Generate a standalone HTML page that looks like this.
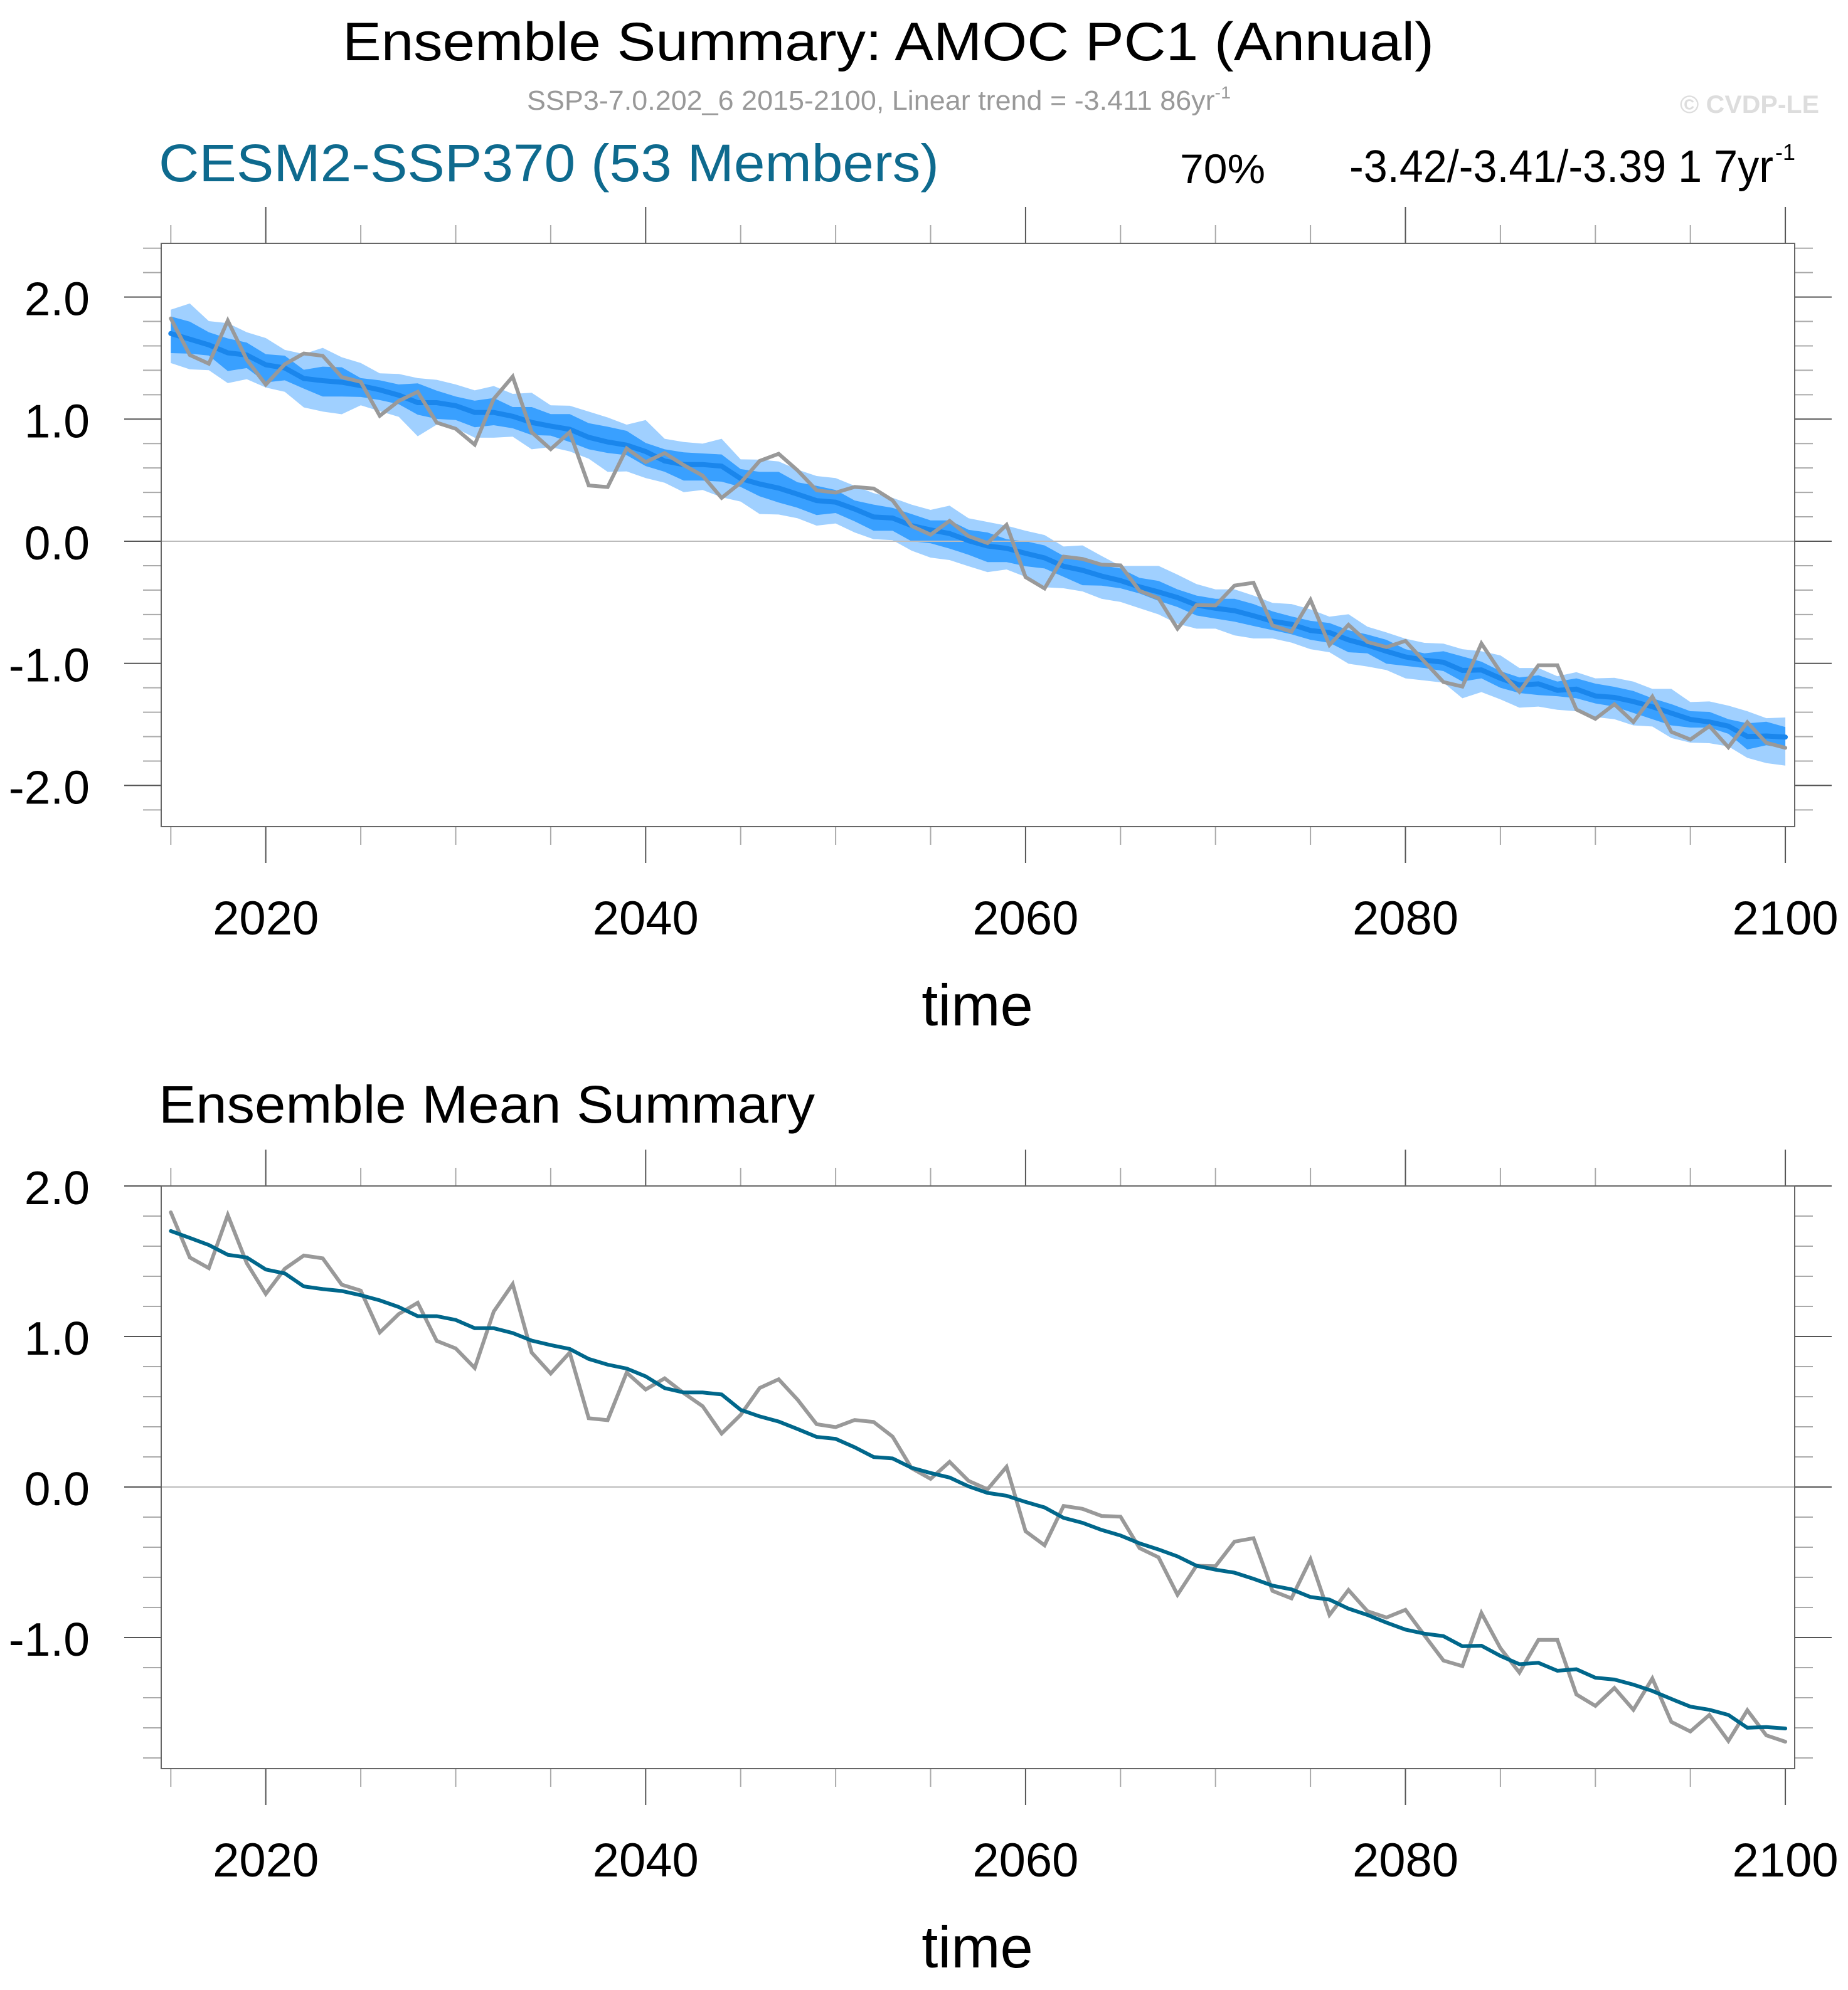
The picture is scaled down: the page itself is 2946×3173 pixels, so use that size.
<!DOCTYPE html>
<html><head><meta charset="utf-8"><title>Ensemble Summary: AMOC PC1 (Annual)</title>
<style>
html,body{margin:0;padding:0;background:#fff;}
svg{display:block;}
text{font-family:"Liberation Sans",Arial,sans-serif;}
</style></head>
<body>
<svg id="chart" xmlns="http://www.w3.org/2000/svg" width="2946" height="3173" viewBox="0 0 2946 3173">
<rect x="0" y="0" width="2946" height="3173" fill="#fff"/>
<text x="1416" y="96" text-anchor="middle" font-size="86" textLength="1740" lengthAdjust="spacingAndGlyphs" fill="#000">Ensemble Summary: AMOC PC1 (Annual)</text>
<text x="840" y="175" font-size="44" textLength="1122" lengthAdjust="spacingAndGlyphs" fill="#999">SSP3-7.0.202_6 2015-2100, Linear trend = -3.411 86yr<tspan dy="-18" font-size="28">-1</tspan></text>
<text x="2678" y="180" font-size="40" font-weight="bold" textLength="222" lengthAdjust="spacingAndGlyphs" fill="#ddd">© CVDP-LE</text>
<text x="253" y="289" font-size="84" textLength="1244" lengthAdjust="spacingAndGlyphs" fill="#0e6a8e">CESM2-SSP370 (53 Members)</text>
<text x="1881" y="292" font-size="66" textLength="136" lengthAdjust="spacingAndGlyphs" fill="#000">70%</text>
<text x="2151" y="290" font-size="72" textLength="676" lengthAdjust="spacingAndGlyphs" fill="#000">-3.42/-3.41/-3.39 1 7yr</text>
<text x="2830" y="255" font-size="36" fill="#000">-1</text>
<text x="253" y="1790" font-size="84" textLength="1046" lengthAdjust="spacingAndGlyphs" fill="#000">Ensemble Mean Summary</text>
<g id="top"></g>
<g id="bot"></g>
</svg>
<script>
const years = [];
for (let y = 2015; y <= 2100; y++) years.push(y);
const obsSeries = [1.825,1.525,1.454,1.807,1.487,1.283,1.450,1.538,1.519,1.344,1.305,1.027,1.149,1.224,0.971,0.921,0.791,1.166,1.348,0.893,0.754,0.893,0.457,0.444,0.760,0.648,0.722,0.624,0.537,0.355,0.479,
0.658,0.716,0.580,0.417,0.398,0.445,0.432,0.335,0.125,0.054,0.167,0.041,-0.015,0.134,-0.294,-0.387,-0.126,-0.145,-0.192,-0.197,-0.406,-0.467,-0.716,-0.523,-0.526,-0.363,-0.340,-0.690,-0.740,-0.480,
-0.850,-0.684,-0.825,-0.867,-0.816,-0.986,-1.153,-1.190,-0.837,-1.071,-1.233,-1.016,-1.016,-1.378,-1.454,-1.335,-1.480,-1.272,-1.561,-1.624,-1.514,-1.687,-1.483,-1.650,-1.692];
const meanSeries = [1.701,1.655,1.608,1.543,1.525,1.445,1.419,1.333,1.315,1.302,1.274,1.240,1.196,1.135,1.135,1.110,1.055,1.055,1.023,0.973,0.943,0.917,0.851,0.813,0.787,0.735,0.657,0.628,0.628,0.615,0.513,
0.469,0.435,0.385,0.333,0.320,0.264,0.199,0.190,0.128,0.093,0.063,0.004,-0.039,-0.058,-0.099,-0.136,-0.205,-0.238,-0.285,-0.322,-0.374,-0.415,-0.461,-0.523,-0.549,-0.569,-0.610,
-0.655,-0.680,-0.731,-0.748,-0.808,-0.850,-0.901,-0.947,-0.974,-0.991,-1.058,-1.054,-1.122,-1.177,-1.168,-1.221,-1.211,-1.267,-1.279,-1.313,-1.355,-1.408,-1.459,-1.480,-1.514,-1.599,-1.595,-1.604];
const outerUpper = [1.896,1.947,1.803,1.786,1.712,1.664,1.567,1.533,1.584,1.507,1.460,1.375,1.370,1.336,1.322,1.284,1.236,1.271,1.207,1.216,1.113,1.110,1.062,1.014,0.955,0.993,0.839,0.813,0.799,0.839,
0.671,0.668,0.654,0.586,0.534,0.517,0.454,0.394,0.356,0.300,0.257,0.291,0.188,0.158,0.128,0.086,0.051,-0.043,-0.034,-0.120,-0.202,-0.202,-0.202,-0.274,-0.351,-0.394,-0.394,-0.445,-0.505,-0.514,
-0.558,-0.618,-0.598,-0.700,-0.747,-0.798,-0.832,-0.838,-0.884,-0.901,-0.935,-1.038,-1.038,-1.106,-1.072,-1.123,-1.118,-1.149,-1.209,-1.209,-1.317,-1.312,-1.346,-1.392,-1.449,-1.443];
const innerUpper = [1.841,1.798,1.712,1.661,1.627,1.532,1.520,1.404,1.430,1.425,1.336,1.318,1.284,1.293,1.233,1.185,1.151,1.173,1.099,1.099,1.041,1.041,0.967,0.938,0.904,0.805,0.753,0.728,0.719,0.711,
0.591,0.568,0.568,0.483,0.454,0.420,0.334,0.300,0.274,0.223,0.171,0.171,0.094,0.072,0.017,0.000,-0.034,-0.120,-0.146,-0.197,-0.223,-0.300,-0.325,-0.394,-0.445,-0.471,-0.471,-0.514,-0.574,-0.616,
-0.652,-0.670,-0.729,-0.764,-0.807,-0.884,-0.918,-0.901,-0.943,-0.986,-1.063,-1.115,-1.098,-1.149,-1.123,-1.166,-1.192,-1.226,-1.286,-1.334,-1.392,-1.397,-1.457,-1.491,-1.478,-1.522];
const innerLower = [1.541,1.536,1.521,1.394,1.418,1.301,1.318,1.250,1.185,1.185,1.182,1.156,1.122,1.036,1.002,0.993,0.933,0.950,0.925,0.870,0.865,0.813,0.753,0.723,0.705,0.616,0.569,0.497,0.497,0.488,
0.445,0.368,0.317,0.274,0.214,0.231,0.163,0.086,0.086,0.000,-0.017,-0.060,-0.111,-0.171,-0.171,-0.205,-0.223,-0.291,-0.360,-0.363,-0.385,-0.428,-0.488,-0.539,-0.608,-0.634,-0.659,-0.694,-0.728,-0.762,
-0.807,-0.832,-0.909,-0.918,-1.003,-1.021,-1.038,-1.063,-1.149,-1.123,-1.200,-1.243,-1.260,-1.269,-1.286,-1.328,-1.354,-1.406,-1.457,-1.508,-1.526,-1.526,-1.577,-1.705,-1.671,-1.697];
const outerLower = [1.459,1.408,1.401,1.295,1.327,1.259,1.224,1.096,1.062,1.040,1.113,1.065,1.019,0.860,0.955,0.925,0.848,0.848,0.856,0.753,0.771,0.736,0.676,0.568,0.572,0.517,0.479,0.402,0.420,0.360,
0.325,0.223,0.219,0.188,0.128,0.146,0.072,0.017,0.009,-0.077,-0.134,-0.154,-0.205,-0.253,-0.231,-0.291,-0.377,-0.385,-0.411,-0.471,-0.497,-0.548,-0.599,-0.676,-0.716,-0.716,-0.771,-0.796,-0.796,-0.830,
-0.884,-0.909,-1.003,-1.026,-1.055,-1.123,-1.140,-1.158,-1.286,-1.235,-1.295,-1.363,-1.354,-1.380,-1.392,-1.440,-1.457,-1.508,-1.517,-1.611,-1.649,-1.654,-1.680,-1.774,-1.817,-1.837];
const xTickLabels = ["2020","2040","2060","2080","2100"];
const topYTickLabels = ["2.0","1.0","0.0","-1.0","-2.0"];
const botYTickLabels = ["2.0","1.0","0.0","-1.0"];

const NS = "http://www.w3.org/2000/svg";
function mk(tag, attrs, parent) {
  const e = document.createElementNS(NS, tag);
  for (const k in attrs) e.setAttribute(k, attrs[k]);
  parent.appendChild(e);
  return e;
}
const xL = 257, xR = 2861;
function xScale(yr) { return 272.3 + (yr - 2015) * 30.28; }

function drawFrame(g, top, bot, y0, unit, vMin, vMax, labels, prefix) {
  const yS = v => y0 - v * unit;
  for (let k = Math.ceil(vMin * 5); k <= Math.floor(vMax * 5); k++) {
    const v = k / 5, y = yS(v);
    const major = (k % 5 === 0);
    const len = major ? 59 : 29;
    const l1 = mk("line", {x1: xL - len, x2: xL, y1: y, y2: y, stroke: major ? "#555" : "#aaa", "stroke-width": 2}, g);
    
    
    const l2 = mk("line", {x1: xR, x2: xR + len, y1: y, y2: y, stroke: major ? "#555" : "#aaa", "stroke-width": 2}, g);
    
    
  }
  labels.forEach(s => {
    const v = parseFloat(s);
    const t = mk("text", {x: 143, y: yS(v) + 29, "text-anchor": "end", "font-size": 75, fill: "#000"}, g);
    t.textContent = s;
    
    
  });
  for (let yr = 2015; yr <= 2100; yr += 5) {
    const major = (yr % 20 === 0);
    const len = major ? 58 : 29;
    const x = xScale(yr);
    const a = mk("line", {x1: x, x2: x, y1: top - len, y2: top, stroke: major ? "#555" : "#aaa", "stroke-width": 2}, g);
    
    
    const b = mk("line", {x1: x, x2: x, y1: bot, y2: bot + len, stroke: major ? "#555" : "#aaa", "stroke-width": 2}, g);
    
    
  }
  xTickLabels.forEach(s => {
    const t = mk("text", {x: xScale(+s), y: bot + 172, "text-anchor": "middle", "font-size": 76, fill: "#000"}, g);
    t.textContent = s;
    
    
  });
  const tt = mk("text", {x: 1558, y: bot + 317, "text-anchor": "middle", "font-size": 94, fill: "#000"}, g);
  tt.textContent = "time";
  
  
  const z = mk("line", {x1: xL, x2: xR, y1: yS(0), y2: yS(0), stroke: "#bbb", "stroke-width": 2}, g);
  
  
  return yS;
}
function line(g, arr, yS, color, w, name) {
  const pts = years.map((yr, i) => xScale(yr).toFixed(1) + "," + yS(arr[i]).toFixed(1)).join(" ");
  const p = mk("polyline", {points: pts, fill: "none", stroke: color, "stroke-width": w, "stroke-linejoin": "miter", "stroke-linecap": "round"}, g);
  
  
}
function band(g, up, lo, yS, color, name) {
  const a = years.map((yr, i) => xScale(yr).toFixed(1) + "," + yS(up[i]).toFixed(1));
  const b = years.map((yr, i) => xScale(yr).toFixed(1) + "," + yS(lo[i]).toFixed(1)).reverse();
  const p = mk("polygon", {points: a.concat(b).join(" "), fill: color, stroke: "none"}, g);
  
  
}

const gt = document.getElementById("top");
const topTop = 388, topBot = 1318;
const ySt = v => 863 - v * 194.7;
band(gt, outerUpper, outerLower, ySt, "#a0d0ff", "outer-spread-band");
band(gt, innerUpper, innerLower, ySt, "#39a0ff", "inner-spread-band");
drawFrame(gt, topTop, topBot, 863, 194.7, -2.34, 2.44, topYTickLabels, "top");
line(gt, meanSeries, ySt, "#1a86ec", 8, "top-ensemble-mean-line");
line(gt, obsSeries, ySt, "#999", 6, "top-observed-line");
const ft = mk("rect", {x: xL, y: topTop, width: xR - xL, height: topBot - topTop, fill: "none", stroke: "#666", "stroke-width": 2}, gt);



const gb = document.getElementById("bot");
const botTop = 1891, botBot = 2820;
const ySb = drawFrame(gb, botTop, botBot, 2371, 240, -1.87, 2.0, botYTickLabels, "bottom");
line(gb, obsSeries, ySb, "#999", 6, "bottom-observed-line");
line(gb, meanSeries, ySb, "#00678b", 6, "bottom-ensemble-mean-line");
const fb = mk("rect", {x: xL, y: botTop, width: xR - xL, height: botBot - botTop, fill: "none", stroke: "#666", "stroke-width": 2}, gb);


</script>
</body></html>
